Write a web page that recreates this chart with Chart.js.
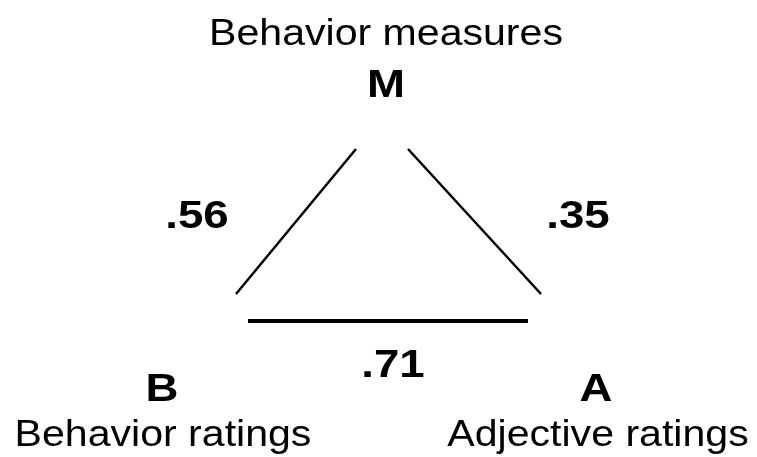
<!DOCTYPE html>
<html>
<head>
<meta charset="utf-8">
<script src="https://cdn.jsdelivr.net/npm/chart.js@4"></script>
<style>
  html, body { margin: 0; padding: 0; background: #fff; }
  #wrap { width: 757px; height: 457px; }
</style>
</head>
<body>
<div id="wrap"><canvas id="c" width="757" height="457"></canvas></div>
<script>
// Correlation triangle: nodes and pairwise values
const nodeCodes = ['M', 'B', 'A'];
const nodeTitles = ['Behavior measures', 'Behavior ratings', 'Adjective ratings'];
const edgeValues = ['.56', '.35', '.71'];   // M-B, M-A, B-A

// segment end points in chart units (x 0..757, y 0..457 top-down)
const edgeMB = [{ x: 356, y: 149 }, { x: 236, y: 294 }];
const edgeMA = [{ x: 408, y: 149 }, { x: 541, y: 294 }];
const edgeBA = [{ x: 248, y: 321 }, { x: 528, y: 321 }];

// where each text goes (layout only)
const titleSpots = [[386, 45], [163, 446], [598, 446]];
const codeSpots = [[386, 97], [162, 401], [596, 401]];
const valueSpots = [[197, 228], [578, 228], [393, 377]];

const TITLE_FONT = '37px "Liberation Sans", Arial, sans-serif';
const BOLD_FONT = 'bold 38px "Liberation Sans", Arial, sans-serif';

const textPlugin = {
    id: 'triangleText',
    afterDatasetsDraw(chart) {
        const { ctx, scales: { x, y } } = chart;
        const put = (txt, spot, font, sx) => {
            ctx.save();
            ctx.translate(x.getPixelForValue(spot[0]), y.getPixelForValue(spot[1]));
            ctx.scale(sx, 1);   // reference text is a bit wider than it is tall
            ctx.font = font;
            ctx.fillStyle = '#000';
            ctx.textAlign = 'center';
            ctx.textBaseline = 'alphabetic';
            ctx.fillText(txt, 0, 0);
            ctx.restore();
        };
        nodeTitles.forEach((t, i) => put(t, titleSpots[i], TITLE_FONT, 1.11));
        nodeCodes.forEach((t, i) => put(t, codeSpots[i], BOLD_FONT, 1.2));
        edgeValues.forEach((t, i) => put(t, valueSpots[i], BOLD_FONT, 1.2));
    }
};

const seg = (data, w) => ({
    data, showLine: true, borderColor: '#000', borderWidth: w,
    pointRadius: 0, borderCapStyle: 'butt', fill: false
});

new Chart(document.getElementById('c'), {
    type: 'scatter',
    data: { datasets: [seg(edgeMB, 2.5), seg(edgeMA, 2.5), seg(edgeBA, 4)] },
    options: {
        responsive: false, animation: false,
        layout: { padding: 0 },
        plugins: { legend: { display: false }, tooltip: { enabled: false } },
        scales: {
            x: { type: 'linear', min: 0, max: 757, display: false },
            y: { type: 'linear', min: 0, max: 457, reverse: true, display: false }
        }
    },
    plugins: [textPlugin]
});
</script>
</body>
</html>
